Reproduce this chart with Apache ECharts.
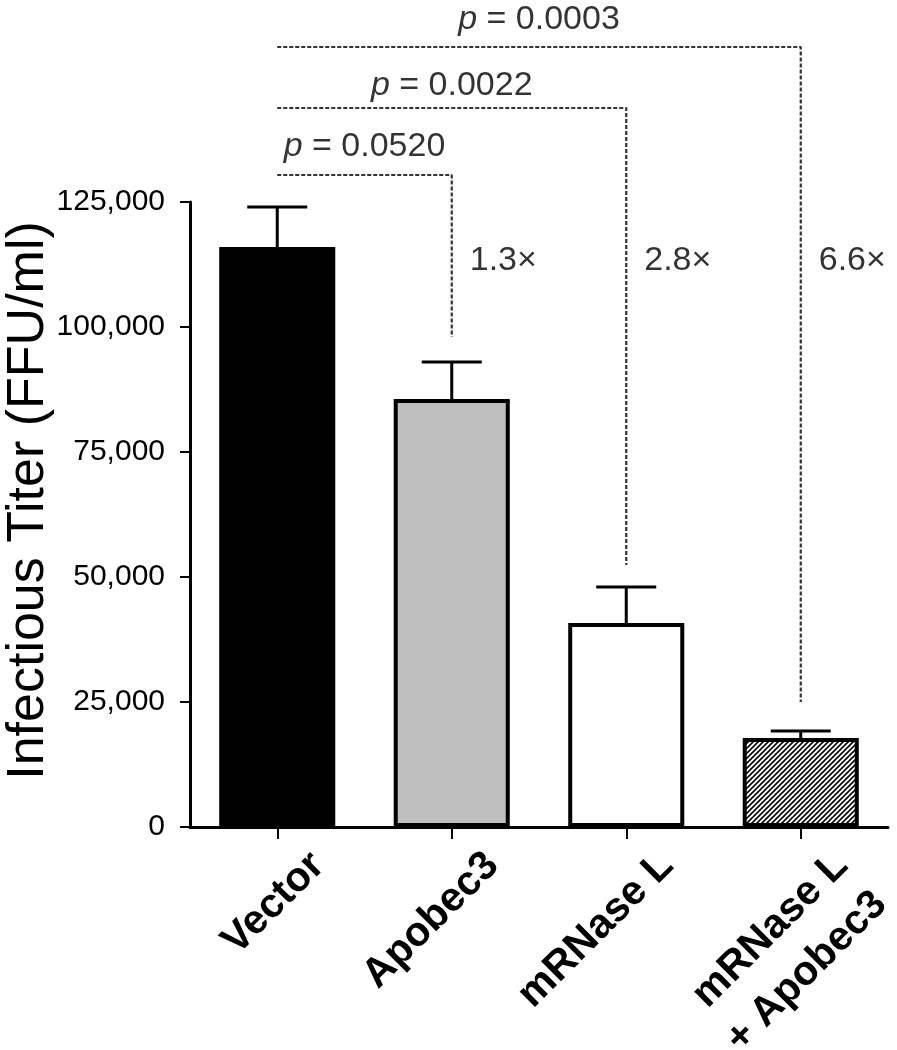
<!DOCTYPE html>
<html>
<head>
<meta charset="utf-8">
<script src="https://cdn.jsdelivr.net/npm/echarts@6/dist/echarts.min.js"></script>
<style>
html,body{margin:0;padding:0;background:#fff;}
#chart{width:897px;height:1050px;}
</style>
</head>
<body>
<div id="chart"></div>
<script>
// ---- data ----
const categories = ['Vector', 'Apobec3', 'mRNase L', 'mRNase L\n+ Apobec3'];
const meanValues = [116000, 85600, 40800, 17800];
const upperErrorValues = [124000, 93000, 48000, 19200];
const yTickValues = [0, 25000, 50000, 75000, 100000, 125000];
const foldLabels = ['', '1.3×', '2.8×', '6.6×'];
const pLabels = ['0.0520', '0.0022', '0.0003'];
// brackets: from category 0 to target category, at height, dropping down to end value
const bracketTargets = [1, 2, 3];
const bracketHeights = [130400, 143800, 156000];
const bracketEnds = [98000, 52400, 25000];
const pLabelHeights = [136000, 148200, 161400];
const foldLabelHeight = 113200;

// ---- styles ----
const FONT = "'Liberation Sans', Arial, Helvetica, sans-serif";
const TEXT = '#000';

function hatchPattern() {
  const n = 5;
  const c = document.createElement('canvas');
  c.width = n; c.height = n;
  const g = c.getContext('2d');
  g.fillStyle = '#ffffff';
  g.fillRect(0, 0, n, n);
  g.strokeStyle = '#000000';
  g.lineWidth = 1.6;
  g.beginPath();
  g.moveTo(-1, n + 1); g.lineTo(n + 1, -1);
  g.moveTo(-1, 1); g.lineTo(1, -1);
  g.moveTo(n - 1, n + 1); g.lineTo(n + 1, n - 1);
  g.stroke();
  return c;
}

const barFills = ['#000000', '#bfbfbf', '#ffffff', { image: hatchPattern(), repeat: 'repeat' }];

const chart = echarts.init(document.getElementById('chart'), null, { renderer: 'canvas' });

const barData = meanValues.map((v, i) => ({
  value: v,
  itemStyle: { color: barFills[i], borderColor: '#000', borderWidth: 4 }
}));

const errData = meanValues.map((v, i) => [i, v, upperErrorValues[i]]);

const bracketSeries = bracketTargets.map((t, k) => ({
  type: 'line',
  xAxisIndex: 1,
  yAxisIndex: 0,
  data: [[0, bracketHeights[k]], [t, bracketHeights[k]], [t, bracketEnds[k]]],
  symbol: 'none',
  clip: false,
  silent: true,
  z: 1,
  lineStyle: { color: '#333', width: 2.2, type: [4, 2] }
}));

const pData = bracketTargets.map((t, k) => ({
  value: [t / 2, pLabelHeights[k]],
  label: { formatter: '{i|p} = ' + pLabels[k] }
}));

const foldData = foldLabels.map((f, i) => f ? { value: [i, foldLabelHeight], label: { formatter: f } } : null).filter(Boolean);

const option = {
  backgroundColor: '#fff',
  animation: false,
  grid: { left: 190, right: 9, top: 202, bottom: 223, containLabel: false, outerBoundsMode: 'none' },
  xAxis: [
    {
      type: 'category',
      data: categories,
      boundaryGap: true,
      axisLine: { show: true, onZero: false, lineStyle: { color: '#000', width: 3 } },
      axisTick: { show: true, alignWithLabel: true, length: 12, lineStyle: { color: '#000', width: 2 } },
      axisLabel: {
        interval: 0,
        rotate: 45,
        align: 'right',
        verticalAlign: 'top',
        margin: 34,
        padding: [0, -30, 0, 0],
        fontFamily: FONT,
        fontWeight: 'bold',
        fontSize: 41,
        lineHeight: 55,
        color: '#000'
      },
      splitLine: { show: false }
    },
    {
      type: 'value',
      min: -0.5,
      max: 3.5,
      show: false
    }
  ],
  yAxis: {
    type: 'value',
    min: yTickValues[0],
    max: yTickValues[yTickValues.length - 1],
    interval: 25000,
    name: 'Infectious Titer (FFU/ml)',
    nameLocation: 'middle',
    nameGap: 135,
    nameMoveOverlap: false,
    nameTextStyle: { fontFamily: FONT, fontSize: 52, color: TEXT, padding: [0, 0, 0, 28] },
    axisLine: { show: true, onZero: false, lineStyle: { color: '#000', width: 3 } },
    axisTick: { show: true, length: 10, lineStyle: { color: '#000', width: 2 } },
    axisLabel: {
      margin: 25,
      fontFamily: FONT,
      fontSize: 30,
      color: TEXT,
      formatter: v => v.toLocaleString('en-US')
    },
    splitLine: { show: false }
  },
  series: [
    {
      type: 'bar',
      xAxisIndex: 0,
      data: barData,
      barWidth: '66.5%',
      z: 2
    },
    {
      type: 'custom',
      xAxisIndex: 0,
      data: errData,
      z: 3,
      renderItem: function (params, api) {
        const base = api.coord([api.value(0), api.value(1)]);
        const top = api.coord([api.value(0), api.value(2)]);
        const half = 30;
        const st = { stroke: '#000', lineWidth: 3 };
        return {
          type: 'group',
          children: [
            { type: 'line', shape: { x1: base[0], y1: base[1], x2: top[0], y2: top[1] }, style: st },
            { type: 'line', shape: { x1: top[0] - half, y1: top[1], x2: top[0] + half, y2: top[1] }, style: st }
          ]
        };
      }
    },
    ...bracketSeries,
    {
      type: 'scatter',
      xAxisIndex: 1,
      yAxisIndex: 0,
      symbolSize: 0,
      clip: false,
      silent: true,
      data: pData,
      label: {
        show: true,
        position: 'inside',
        fontFamily: FONT,
        fontSize: 34,
        color: TEXT,
        rich: { i: { fontStyle: 'italic', fontFamily: FONT, fontSize: 34, color: TEXT } }
      }
    },
    {
      type: 'scatter',
      xAxisIndex: 1,
      yAxisIndex: 0,
      symbolSize: 0,
      clip: false,
      silent: true,
      data: foldData,
      label: {
        show: true,
        position: 'right',
        distance: 18,
        fontFamily: FONT,
        fontSize: 34,
        color: TEXT
      }
    }
  ]
};

chart.setOption(option);
</script>
</body>
</html>
